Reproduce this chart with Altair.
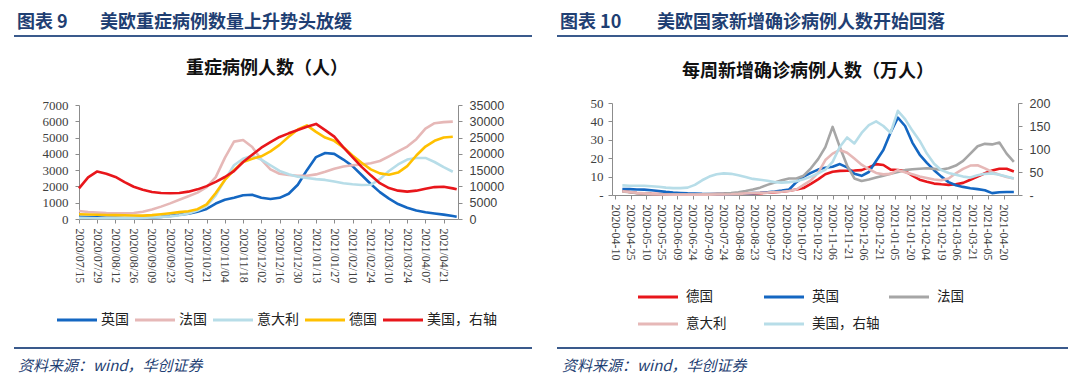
import altair as alt
import pandas as pd

# ---------------- Figure 9: ICU patients ----------------
left_dates = [d.strftime("%Y-%m-%d") for d in pd.date_range("2020-07-15", periods=42, freq="7D")] + ["2021-05-01"]
uk_icu = [140, 120, 100, 80, 70, 60, 60, 70, 90, 130, 190, 260, 330, 450, 620, 950, 1180, 1310, 1460, 1490,
          1300, 1230, 1300, 1550, 2100, 3000, 3800, 4050, 4000, 3650, 3250, 2700, 2150, 1650, 1250, 920, 690,
          520, 410, 340, 270, 180, 140]
fr_icu = [490, 430, 390, 360, 350, 350, 365, 450, 580, 760, 960, 1180, 1400, 1620, 1950, 2570, 3750, 4750,
          4850, 4420, 3650, 3050, 2780, 2700, 2660, 2660, 2740, 2900, 3080, 3220, 3300, 3350, 3420, 3560, 3850,
          4150, 4450, 4900, 5550, 5880, 5950, 5980, None]
it_icu = [70, 60, 50, 45, 45, 50, 55, 70, 100, 130, 160, 230, 340, 520, 800, 1450, 2400, 3300, 3700, 3880,
          3650, 3300, 2950, 2750, 2600, 2520, 2450, 2400, 2300, 2200, 2130, 2090, 2100, 2450, 2950, 3350, 3650,
          3750, 3750, 3500, 3180, 2900, None]
de_icu = [290, 275, 260, 250, 240, 230, 215, 210, 240, 290, 350, 420, 480, 600, 900, 1600, 2400, 3000, 3500,
          3700, 3850, 4150, 4550, 5050, 5500, 5750, 5350, 5000, 4800, 4400, 3900, 3450, 3050, 2800, 2720, 2850,
          3250, 3900, 4450, 4800, 5000, 5050, None]
us_icu = [9400, 12800, 14600, 13900, 12900, 11300, 9900, 9000, 8300, 8000, 7900, 8000, 8400, 9100, 10100,
          11400, 12900, 14700, 17500, 19700, 21900, 23600, 25200, 26300, 27300, 28300, 29200, 27300, 25300,
          22000, 19000, 16000, 13400, 11000, 9500, 8700, 8400, 8700, 9300, 9800, 9900, 9400, 9100]
left_ticks = [d.strftime("%Y-%m-%d") for d in pd.date_range("2020-07-15", periods=21, freq="14D")]
left_y_ticks = [0, 1000, 2000, 3000, 4000, 5000, 6000, 7000]
left_y2_ticks = [0, 5000, 10000, 15000, 20000, 25000, 30000, 35000]

# ---------------- Figure 10: weekly new cases (10k) ----------------
right_dates = [d.strftime("%Y-%m-%d") for d in pd.date_range("2020-04-17", periods=55, freq="7D")]
de_new = [2.2, 1.6, 1.1, 0.8, 0.6, 0.5, 0.4, 0.3, 0.3, 0.3, 0.3, 0.4, 0.4, 0.5, 0.6, 0.8, 0.9, 0.9, 0.9, 1.0,
          1.3, 1.5, 1.8, 2.3, 3.0, 3.8, 6.0, 8.5, 11.3, 12.6, 13.1, 13.2, 13.3, 13.5, 15.0, 16.8, 16.3, 13.8,
          13.6, 13.0, 10.5, 8.3, 7.2, 6.2, 5.8, 5.5, 5.8, 6.6, 8.3, 10.0, 11.8, 13.3, 14.3, 14.3, 12.8]
uk_new = [3.2, 3.2, 3.0, 2.9, 2.6, 2.2, 1.7, 1.3, 1.1, 0.9, 0.8, 0.6, 0.5, 0.5, 0.5, 0.6, 0.7, 0.8, 1.0, 1.2,
          1.5, 1.9, 2.4, 3.0, 7.0, 10.0, 12.0, 13.8, 14.8, 15.4, 16.8, 15.0, 11.5, 10.4, 12.5, 18.5, 24.5, 34.0,
          42.0, 37.5, 28.5, 22.0, 17.5, 13.5, 10.0, 7.0, 5.3, 4.4, 3.7, 3.2, 2.6, 1.0, 1.5, 1.6, 1.6]
fr_new = [1.9, 1.5, 1.0, 0.8, 0.5, 0.4, 0.3, 0.3, 0.3, 0.3, 0.3, 0.4, 0.5, 0.6, 0.8, 1.1, 1.5, 2.2, 3.0, 4.0,
          5.5, 6.8, 8.0, 9.0, 9.0, 10.5, 14.5, 19.5, 26.0, 37.0, 26.0, 16.0, 9.0, 7.6, 8.4, 9.5, 10.5, 11.5,
          12.5, 13.5, 14.0, 14.3, 14.5, 14.2, 13.8, 14.5, 16.0, 18.5, 22.5, 26.5, 27.8, 27.5, 28.5, 22.5, 18.0]
it_new = [2.0, 1.6, 1.2, 0.9, 0.6, 0.4, 0.3, 0.2, 0.2, 0.2, 0.2, 0.2, 0.2, 0.3, 0.3, 0.4, 0.6, 0.9, 1.1, 1.2,
          1.3, 1.6, 1.8, 2.2, 3.0, 5.5, 8.0, 12.0, 19.0, 22.5, 24.5, 23.0, 19.8, 16.5, 14.0, 12.0, 11.2, 11.5,
          13.5, 12.3, 11.3, 10.0, 9.2, 8.4, 8.0, 9.0, 11.8, 14.2, 16.0, 16.2, 14.5, 12.5, 11.0, 9.8, 9.0]
us_new = [21, 20, 20, 20, 19, 18, 16, 15, 15, 16, 22, 32, 40, 45, 47, 46, 43, 39, 35, 33, 31, 28, 27, 28, 30,
          34, 40, 47, 55, 72, 105, 125, 112, 135, 152, 160, 150, 135, 183, 165, 140, 118, 90, 68, 54, 48, 44,
          40, 38, 43, 46, 47, 44, 40, 36]
right_ticks = [d.strftime("%Y-%m-%d") for d in pd.date_range("2020-04-10", periods=26, freq="15D")]
right_y_ticks = [0, 10, 20, 30, 40, 50]
right_y2_ticks = [0, 50, 100, 150, 200]

# ---------------- styling ----------------
CJK = "Noto Sans CJK SC"
SERIF = "Liberation Serif"
SANS = "Liberation Sans"
NAVY = "#1F3F73"
AXC = "#8C8C8C"

left_names = ["英国", "法国", "意大利", "德国"]
left_colors = ["#1467C2", "#E6B8B7", "#B7DDE8", "#FFC000"]
left_us_color = "#E8161B"
right_names = ["德国", "英国", "法国", "意大利"]
right_colors = ["#E8161B", "#1467C2", "#A6A6A6", "#E6B8B7"]
right_us_color = "#B7DDE8"


def ms(s):
    return int(pd.Timestamp(s).value // 1_000_000)


def long_frame(dates, names, series):
    rows = []
    for n, vals in zip(names, series):
        for d, v in zip(dates, vals):
            if v is not None:
                rows.append({"t": ms(d), "v": v, "s": n})
    return pd.DataFrame(rows)


W, H = 1064, 367

# left panel geometry (svg coords)
LX0, LX1, LY0, LY1 = 71, 450, 211, 97
# right panel geometry
RX0, RX1, RY0, RY1 = 604, 1010, 187, 95

xs_left = alt.Scale(type="utc", domain=[ms("2020-07-15"), ms("2021-05-02")], range=[LX0, LX1], nice=False)
xs_right = alt.Scale(type="utc", domain=[ms("2020-04-07"), ms("2021-05-04")], range=[RX0, RX1], nice=False)

common_axis = dict(grid=False, title=None, domainColor=AXC, tickColor=AXC, tickSize=4, domainWidth=1,
                   labelColor="#404040")


def x_axis(offset, ticks, fmt):
    return alt.Axis(orient="bottom", offset=offset, values=[ms(t) for t in ticks],
                    labelExpr="utcFormat(datum.value, '%s')" % fmt, labelAngle=90, labelAlign="left",
                    labelBaseline="middle", labelPadding=5, labelOverlap=False, labelFlush=False,
                    labelFont=SERIF, labelFontSize=12, **common_axis)


# Figure 9 layers
df_l = long_frame(left_dates, left_names, [uk_icu, fr_icu, it_icu, de_icu])
df_lus = long_frame(left_dates, ["美国，右轴"], [us_icu])

l_main = alt.Chart(df_l).mark_line(strokeWidth=2.6, strokeJoin="round").encode(
    x=alt.X("t:T", scale=xs_left, axis=x_axis(LY0 - H, left_ticks, "%Y/%m/%d")),
    y=alt.Y("v:Q", scale=alt.Scale(domain=[0, 7000], range=[LY0, LY1], nice=False),
            axis=alt.Axis(orient="left", offset=-LX0, values=left_y_ticks, format="d", labelFont=SERIF,
                          labelFontSize=13, labelPadding=7, **common_axis)),
    color=alt.Color("s:N", scale=alt.Scale(domain=left_names, range=left_colors), legend=None),
)
l_us = alt.Chart(df_lus).mark_line(strokeWidth=2.6, strokeJoin="round", color=left_us_color).encode(
    x=alt.X("t:T", scale=xs_left, axis=None),
    y=alt.Y("v:Q", scale=alt.Scale(domain=[0, 35000], range=[LY0, LY1], nice=False),
            axis=alt.Axis(orient="right", offset=LX1 - W, values=left_y2_ticks, format="d", labelFont=SANS,
                          labelFontSize=12.5, labelPadding=7, **common_axis)),
)

# Figure 10 layers
df_r = long_frame(right_dates, right_names, [de_new, uk_new, fr_new, it_new])
df_rus = long_frame(right_dates, ["美国，右轴"], [us_new])

r_main = alt.Chart(df_r).mark_line(strokeWidth=2.6, strokeJoin="round").encode(
    x=alt.X("t:T", scale=xs_right, axis=x_axis(RY0 - H, right_ticks, "%Y-%m-%d")),
    y=alt.Y("v:Q", scale=alt.Scale(domain=[0, 50], range=[RY0, RY1], nice=False),
            axis=alt.Axis(orient="left", offset=-RX0, values=right_y_ticks, format="d", labelFont=SERIF,
                          labelFontSize=13, labelPadding=5,
                          labelExpr="datum.value == 0 ? '-' : datum.label", **common_axis)),
    color=alt.Color("s:N", scale=alt.Scale(domain=right_names, range=right_colors), legend=None),
)
r_us = alt.Chart(df_rus).mark_line(strokeWidth=2.6, strokeJoin="round", color=right_us_color).encode(
    x=alt.X("t:T", scale=xs_right, axis=None),
    y=alt.Y("v:Q", scale=alt.Scale(domain=[0, 200], range=[RY0, RY1], nice=False),
            axis=alt.Axis(orient="right", offset=RX1 - W, values=right_y2_ticks, format="d", labelFont=SANS,
                          labelFontSize=12.5, labelPadding=7,
                          labelExpr="datum.value == 0 ? '-' : datum.label", **common_axis)),
)

one = pd.DataFrame({"a": [0]})


def text(s, x, y, **kw):
    return alt.Chart(pd.DataFrame({"t": [s]})).mark_text(**kw).encode(
        x=alt.value(x), y=alt.value(y), text="t:N")


def hline(x1, x2, y, color, width):
    return alt.Chart(one).mark_rule(color=color, strokeWidth=width).encode(
        x=alt.value(x1), x2=alt.value(x2), y=alt.value(y))


deco = []
# headers
hdr = dict(font=CJK, fontSize=18, fontWeight="bold", color=NAVY, align="left", baseline="middle")
deco += [text("图表 9", 9, 15, **hdr), text("美欧重症病例数量上升势头放缓", 92, 15, **hdr),
         text("图表 10", 552, 15, **hdr), text("美欧国家新增确诊病例人数开始回落", 649, 15, **hdr)]
deco += [hline(6, 524, 28, "#3A5A8C", 2), hline(549, 1060, 28, "#3A5A8C", 2)]
# chart titles
ttl = dict(font=CJK, fontSize=18, fontWeight="bold", color="#111111", align="center", baseline="middle")
deco += [text("重症病例人数（人）", 259, 61, **ttl), text("每周新增确诊病例人数（万人）", 800, 64, **ttl)]
# footers
deco += [hline(6, 524, 340, "#3A5A8C", 2), hline(549, 1060, 340, "#3A5A8C", 2)]
ftr = dict(font=CJK, fontSize=15, fontStyle="italic", color=NAVY, align="left", baseline="middle")
deco += [text("资料来源：wind，华创证券", 10, 358, **ftr), text("资料来源：wind，华创证券", 554, 358, **ftr)]

# legends
lg = dict(font=CJK, fontSize=14, color="#222222", align="left", baseline="middle")
x = 49
for name, col in zip(left_names + ["美国，右轴"], left_colors + [left_us_color]):
    deco += [hline(x, x + 40, 312, col, 3), text(name, x + 44, 312, **lg)]
    x += 44 + 14 * len(name) + 6

lg2 = dict(font=CJK, fontSize=13.5, color="#222222", align="left", baseline="middle")
r_entries = list(zip(right_names + ["美国，右轴"], right_colors + [right_us_color]))
col_x = [630, 756, 881]
for i, (name, col) in enumerate(r_entries):
    cx = col_x[i % 3]
    cy = 289 + 27 * (i // 3)
    deco += [hline(cx, cx + 40, cy, col, 3), text(name, cx + 48, cy, **lg2)]

chart = alt.layer(l_main, l_us, r_main, r_us, *deco).resolve_scale(
    x="independent", y="independent", color="independent"
).properties(
    width=W, height=H, autosize=alt.AutoSizeParams(type="none"), padding=0, background="white"
).configure_view(stroke=None)

chart.save("out.html", embed_options={"renderer": "svg", "actions": False})
